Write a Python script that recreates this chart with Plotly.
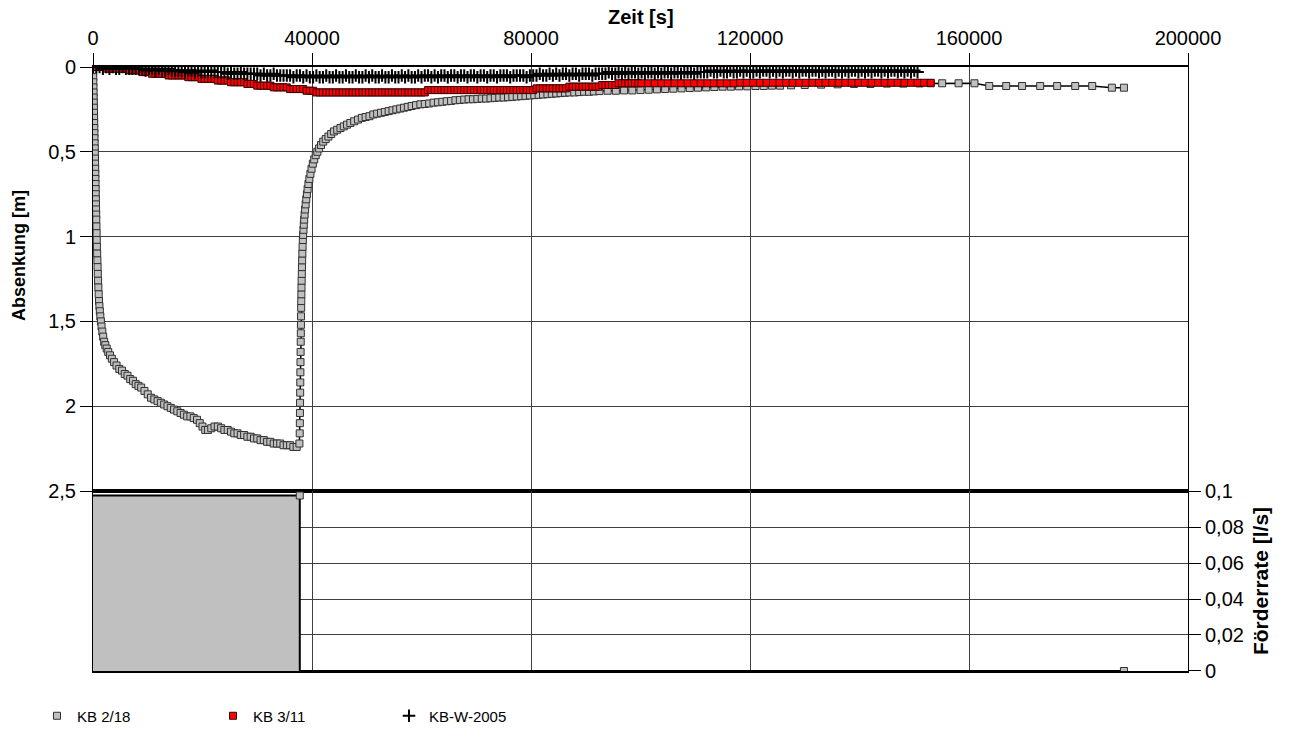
import plotly.graph_objects as go

# ---------------------------------------------------------------
# Pumping test: drawdown in three observation wells + pumping rate
# ---------------------------------------------------------------

# KB 2/18 (pumped well): pumping phase, time [s] / drawdown [m]
kb218_pump_t = [
    0, 20, 40, 60, 80, 100, 120, 140, 160, 180, 200, 220, 240, 260, 280, 300,
    320, 340, 360, 380, 400, 420, 440, 460, 480, 500, 520, 540, 560, 580, 600,
    630, 660, 690, 720, 760, 800, 840, 880, 930, 980, 1040, 1100, 1170, 1250,
    1340, 1440, 1560, 1700, 1860, 2040, 2250, 2500, 2780, 3100, 3450, 3850,
    4300, 4800, 5300, 5800, 6300, 6800, 7300, 7800, 8300, 8800, 9400, 10000,
    10600, 11200, 11800, 12400, 13000, 13600, 14200, 14800, 15400, 16000,
    16600, 17200, 17800, 18400, 19000, 19500, 20000, 20500, 21000, 21600,
    22200, 22800, 23400, 24000, 24600, 25200, 25800, 26400, 27000, 27600,
    28200, 28800, 29400, 30000, 30600, 31200, 31800, 32400, 33000, 33600,
    34200, 34800, 35400, 36000, 36600, 37200, 37700,
]
kb218_pump_s = [
    0.00, 0.03, 0.06, 0.09, 0.12, 0.15, 0.18, 0.21, 0.24, 0.27, 0.30, 0.33,
    0.36, 0.39, 0.42, 0.45, 0.48, 0.51, 0.54, 0.57, 0.60, 0.63, 0.66, 0.69,
    0.72, 0.75, 0.78, 0.81, 0.84, 0.87, 0.90, 0.94, 0.98, 1.02, 1.06, 1.10,
    1.14, 1.18, 1.22, 1.26, 1.30, 1.34, 1.38, 1.41, 1.44, 1.47, 1.50, 1.53,
    1.56, 1.59, 1.62, 1.64, 1.66, 1.68, 1.70, 1.72, 1.74, 1.76, 1.78, 1.79,
    1.81, 1.82, 1.84, 1.85, 1.87, 1.88, 1.89, 1.91, 1.93, 1.95, 1.96, 1.97,
    1.98, 1.99, 2.00, 2.01, 2.02, 2.03, 2.04, 2.05, 2.06, 2.06, 2.07, 2.08,
    2.10, 2.12, 2.14, 2.14, 2.13, 2.12, 2.12, 2.13, 2.14, 2.14, 2.15, 2.16,
    2.16, 2.17, 2.17, 2.18, 2.18, 2.19, 2.19, 2.20, 2.20, 2.21, 2.21, 2.22,
    2.22, 2.22, 2.23, 2.23, 2.23, 2.24, 2.24, 2.22,
]

# KB 2/18: recovery phase after the pump was switched off
kb218_rec_t = [
    37760, 37780, 37800, 37820, 37840, 37860, 37880, 37900, 37920, 37940,
    37960, 37980, 38000, 38020, 38040, 38060, 38080, 38110, 38140, 38170,
    38200, 38240, 38280, 38330, 38380, 38440, 38500, 38570, 38650, 38740,
    38840, 38950, 39070, 39200, 39350, 39520, 39710, 39920, 40150, 40400,
    40680, 40980, 41300, 41650, 42050, 42500, 43000, 43500, 44000, 44600,
    45200, 45800, 46400, 47000, 47700, 48400, 49100, 49800, 50500, 51200,
    51900, 52600, 53300, 54000, 54700, 55400, 56100, 56800, 57500, 58200,
    59000, 59800, 60600, 61400, 62200, 63000, 63800, 64600, 65400, 66200,
    67000, 67800, 68600, 69400, 70200, 71000, 71800, 72600, 73400, 74200,
    75000, 75800, 76600, 77400, 78200, 79000, 79800, 80600, 81400, 82200,
    83000, 83800, 84600, 85400, 86200, 87000, 87900, 88800, 89700, 90600,
    91500, 92500, 94000, 95500, 97000, 98500, 100000, 101500, 103000, 104500,
    106000, 107500, 109000, 110500, 112000, 113500, 115000, 116500, 118000,
    119500, 121000, 122500, 124000, 125500, 127500, 130000, 133000, 136000,
    139000, 142000, 145000, 148000, 151000, 153000, 155100, 158100, 161000,
    163700, 166800, 169700, 173000, 176100, 179400, 182500, 186100, 188300,
]
kb218_rec_s = [
    2.16, 2.10, 2.04, 1.98, 1.92, 1.86, 1.80, 1.74, 1.68, 1.62,
    1.57, 1.52, 1.47, 1.42, 1.38, 1.34, 1.30, 1.26, 1.22, 1.18,
    1.14, 1.10, 1.06, 1.02, 0.99, 0.96, 0.93, 0.90, 0.87, 0.84,
    0.81, 0.78, 0.75, 0.72, 0.69, 0.66, 0.63, 0.60, 0.57, 0.545,
    0.52, 0.50, 0.48, 0.46, 0.44, 0.425, 0.41, 0.395, 0.38, 0.37,
    0.36, 0.35, 0.34, 0.33, 0.32, 0.31, 0.30, 0.295, 0.29, 0.28,
    0.275, 0.27, 0.265, 0.26, 0.255, 0.25, 0.245, 0.24, 0.235, 0.23,
    0.225, 0.22, 0.218, 0.215, 0.21, 0.208, 0.205, 0.202, 0.20, 0.196,
    0.194, 0.192, 0.19, 0.19, 0.188, 0.186, 0.186, 0.184, 0.182, 0.18,
    0.18, 0.178, 0.176, 0.174, 0.172, 0.17, 0.168, 0.166, 0.164, 0.162,
    0.16, 0.158, 0.156, 0.154, 0.152, 0.15, 0.15, 0.148, 0.146, 0.146,
    0.144, 0.142, 0.14, 0.14, 0.138, 0.138, 0.136, 0.134, 0.132, 0.13,
    0.128, 0.126, 0.124, 0.122, 0.12, 0.118, 0.116, 0.116, 0.114,
    0.114, 0.112, 0.112, 0.11, 0.11, 0.108, 0.106, 0.104, 0.102,
    0.10, 0.10, 0.098, 0.098, 0.097, 0.096, 0.096, 0.096, 0.096,
    0.112, 0.112, 0.112, 0.112, 0.112, 0.112, 0.112, 0.122, 0.122,
]

# Logger sampling of the observation wells [s]
LOG_DT = 600
KB311_DT_LATE = 1200
KB311_SWITCH = 100800

# KB 3/11 drawdown readings [m] (every 600 s, from 100800 s every 1200 s)
kb311_s = [
    0.00, 0.00, 0.00, 0.00, 0.01, 0.01, 0.01, 0.01, 0.01, 0.01, 0.01,
    0.02, 0.02, 0.02, 0.02, 0.03, 0.03, 0.03, 0.04, 0.04, 0.04, 0.04, 0.04,
    0.05, 0.05, 0.05, 0.05, 0.05, 0.05, 0.06, 0.06, 0.06, 0.06,
    0.07, 0.07, 0.07, 0.07, 0.07, 0.08, 0.08, 0.08, 0.08,
    0.09, 0.09, 0.09, 0.09, 0.09, 0.10, 0.10, 0.10,
    0.11, 0.11, 0.11, 0.11, 0.11, 0.12, 0.12, 0.12, 0.12, 0.12,
    0.13, 0.13, 0.13, 0.13, 0.13, 0.14, 0.14, 0.14,
    0.15, 0.15, 0.15, 0.15, 0.15, 0.15, 0.15, 0.15, 0.15, 0.15, 0.15, 0.15,
    0.15, 0.15, 0.15, 0.15, 0.15, 0.15, 0.15, 0.15, 0.15, 0.15, 0.15, 0.15,
    0.15, 0.15, 0.15, 0.15, 0.15, 0.15, 0.15, 0.15, 0.15, 0.15,
    0.136, 0.136, 0.136, 0.136, 0.136, 0.136, 0.136, 0.136, 0.136, 0.136,
    0.136, 0.136, 0.136, 0.136, 0.136, 0.136, 0.136, 0.136, 0.136, 0.136,
    0.136, 0.136, 0.136, 0.136, 0.136, 0.136, 0.136, 0.136, 0.136, 0.136,
    0.136, 0.136, 0.136,
    0.126, 0.126, 0.126, 0.126, 0.126, 0.126, 0.126, 0.126, 0.126, 0.126,
    0.116, 0.116, 0.116, 0.116, 0.116, 0.116, 0.116, 0.116, 0.116, 0.116,
    0.106, 0.106, 0.106, 0.106, 0.106,
    0.096, 0.096, 0.096, 0.096, 0.096, 0.096, 0.096,
    # from here on every 1200 s
    0.096, 0.096, 0.096, 0.096, 0.096, 0.096, 0.096, 0.096, 0.096, 0.096,
    0.096, 0.096, 0.096, 0.096, 0.096,
    0.093, 0.093, 0.093, 0.093, 0.093, 0.093, 0.093, 0.093, 0.093, 0.093,
    0.093, 0.093, 0.093, 0.093, 0.093, 0.093, 0.093, 0.093, 0.093, 0.093,
    0.093, 0.093, 0.093, 0.093, 0.093, 0.093, 0.093, 0.093, 0.093, 0.093,
]

# KB-W-2005 drawdown readings [m] (every 600 s)
kbw2005_s = [
    0.00, 0.00, 0.00, 0.01, 0.00, 0.01, 0.00, 0.01, 0.01, 0.00,
    0.01, 0.01, 0.01, 0.01, 0.01, 0.01, 0.02, 0.01, 0.01, 0.02,
    0.01, 0.02, 0.02, 0.01, 0.02, 0.02, 0.02, 0.02, 0.03, 0.02,
    0.02, 0.03, 0.02, 0.03, 0.03, 0.03, 0.02, 0.03, 0.03, 0.03,
    0.03, 0.04, 0.03, 0.04, 0.04, 0.03, 0.04, 0.04, 0.04, 0.04,
    0.04, 0.05, 0.04, 0.05, 0.05, 0.04, 0.05, 0.05, 0.05, 0.05,
    0.05, 0.06, 0.05, 0.05, 0.06, 0.05, 0.06, 0.06, 0.05, 0.06,
    0.06, 0.05, 0.06, 0.06, 0.05, 0.06, 0.06, 0.05, 0.06, 0.06,
    0.05, 0.06, 0.06, 0.05, 0.06, 0.05, 0.06, 0.06, 0.05, 0.06,
    0.06, 0.05, 0.06, 0.06, 0.05, 0.06, 0.05, 0.06, 0.06, 0.05,
    0.06, 0.05, 0.05, 0.06, 0.05, 0.06, 0.05, 0.05, 0.06, 0.05,
    0.05, 0.06, 0.05, 0.05, 0.06, 0.05, 0.05, 0.06, 0.05, 0.05,
    0.06, 0.05, 0.05, 0.06, 0.05, 0.05, 0.05, 0.06, 0.05, 0.05,
    0.05, 0.05, 0.06, 0.05, 0.05, 0.05, 0.04, 0.05, 0.05, 0.04,
    0.05, 0.04, 0.05, 0.04, 0.04, 0.05, 0.04, 0.04, 0.05, 0.04,
    0.04, 0.04, 0.05, 0.04, 0.04, 0.04, 0.04, 0.03, 0.04, 0.04,
    0.03, 0.04, 0.03, 0.04, 0.03, 0.03, 0.04,
    0.03, 0.04, 0.03, 0.03, 0.04, 0.03, 0.04, 0.03, 0.03, 0.04,
    0.03, 0.03, 0.04, 0.03, 0.03, 0.03, 0.04, 0.03, 0.03, 0.03,
    0.03, 0.02, 0.03, 0.03, 0.02, 0.03, 0.03, 0.02, 0.03, 0.03,
    0.02, 0.03, 0.02, 0.03, 0.03, 0.02, 0.03, 0.02, 0.02, 0.03,
    0.02, 0.03, 0.02, 0.03, 0.02, 0.02, 0.03, 0.02, 0.03, 0.02,
    0.02, 0.03, 0.02, 0.02, 0.03, 0.02, 0.03, 0.02, 0.02, 0.03,
    0.02, 0.03, 0.02, 0.03, 0.02, 0.02, 0.03, 0.02, 0.03, 0.02,
    0.03, 0.02, 0.02, 0.03, 0.02, 0.03, 0.02, 0.02, 0.03, 0.02,
    0.03, 0.02, 0.03, 0.02, 0.03,
]

# Pumping rate [l/s]: constant while pumping, zero afterwards
rate_t = [0, 37770, 37770, 188300]
rate_q = [0.0975, 0.0975, 0.0, 0.0]
rate_marker_visible = [0, 1, 0, 1]

# Axis ticks
x_ticks = [0, 40000, 80000, 120000, 160000, 200000]
x_ticktext = ["0", "40000", "80000", "120000", "160000", "200000"]
s_ticks = [0, 0.5, 1.0, 1.5, 2.0, 2.5]
s_ticktext = ["0", "0,5", "1", "1,5", "2", "2,5"]
q_ticks = [0, 0.02, 0.04, 0.06, 0.08, 0.1]
q_ticktext = ["0", "0,02", "0,04", "0,06", "0,08", "0,1"]


def logger_times(n, dt=LOG_DT, switch=None, dt_late=None):
    """Sampling times of an observation-well logger."""
    times = []
    t = 0
    for _ in range(n):
        times.append(t)
        t += dt_late if (switch is not None and t >= switch - dt) else dt
    return times


kb218_t = kb218_pump_t + kb218_rec_t
kb218_s = kb218_pump_s + kb218_rec_s
kb311_t = logger_times(len(kb311_s), switch=KB311_SWITCH,
                       dt_late=KB311_DT_LATE)
kbw2005_t = logger_times(len(kbw2005_s))

FONT = "Liberation Sans, Arial, sans-serif"
GRID = "#404040"

fig = go.Figure()

# KB 2/18: connecting line underneath, markers on top
fig.add_trace(go.Scatter(
    x=kb218_t, y=kb218_s, mode="lines", showlegend=False, hoverinfo="skip",
    line=dict(color="black", width=1.5), xaxis="x", yaxis="y",
))
fig.add_trace(go.Scatter(
    x=kb218_t, y=kb218_s, name="KB 2/18", mode="markers",
    marker=dict(symbol="square", size=7, color="#c0c0c0",
                line=dict(color="#303030", width=1)),
    xaxis="x", yaxis="y",
))
fig.add_trace(go.Scatter(
    x=kb311_t, y=kb311_s, name="KB 3/11", mode="markers",
    marker=dict(symbol="square", size=7, color="#ff0000",
                line=dict(color="#3a0000", width=1)),
    xaxis="x", yaxis="y",
))
fig.add_trace(go.Scatter(
    x=kbw2005_t, y=kbw2005_s, name="KB-W-2005", mode="markers",
    marker=dict(symbol="cross-thin", size=9, color="black",
                line=dict(color="black", width=2)),
    xaxis="x", yaxis="y",
))
fig.add_trace(go.Scatter(
    x=rate_t, y=rate_q, name="Förderrate", mode="lines+markers",
    fill="tozeroy", fillcolor="#c0c0c0",
    line=dict(color="black", width=2),
    marker=dict(symbol="square", size=7, color="#c0c0c0",
                opacity=rate_marker_visible,
                line=dict(color="#303030", width=1)),
    showlegend=False, xaxis="x2", yaxis="y2",
))

TOP_DOMAIN = [0.298, 1.0]
BOTTOM_DOMAIN = [0.0, 0.298]
PLOT_TOP, PLOT_BOTTOM = 67, 671          # pixel rows of the plotting area
PLOT_H = PLOT_BOTTOM - PLOT_TOP

fig.update_layout(
    width=1290, height=735,
    margin=dict(l=93, r=102, t=PLOT_TOP, b=735 - PLOT_BOTTOM, autoexpand=False),
    paper_bgcolor="white", plot_bgcolor="white",
    font=dict(family=FONT, size=20, color="black"),
    showlegend=True,
    legend=dict(
        orientation="h", xref="container", yref="container",
        x=37 / 1290, xanchor="left", y=1 - 716 / 735, yanchor="middle",
        entrywidth=131, entrywidthmode="pixels",
        font=dict(family=FONT, size=15, color="black"),
        bgcolor="rgba(0,0,0,0)",
    ),
    xaxis=dict(
        domain=[0, 1], range=[0, 200000], anchor="y", side="top",
        automargin=False,
        tickmode="array", tickvals=x_ticks, ticktext=x_ticktext,
        ticks="outside", ticklen=12, tickcolor="black", tickwidth=1,
        showline=True, linecolor="black", linewidth=2, mirror=True,
        showgrid=True, gridcolor=GRID, gridwidth=1, zeroline=False,
    ),
    xaxis2=dict(
        domain=[0, 1], range=[0, 200000], anchor="y2", matches="x",
        automargin=False,
        tickmode="array", tickvals=x_ticks, showticklabels=False, ticks="",
        showline=True, linecolor="black", linewidth=2, mirror=True,
        showgrid=True, gridcolor=GRID, gridwidth=1, zeroline=False,
    ),
    yaxis=dict(
        domain=TOP_DOMAIN, range=[2.5, 0], anchor="x", automargin=False,
        tickmode="array", tickvals=s_ticks, ticktext=s_ticktext,
        ticks="outside", ticklen=12, tickcolor="black", tickwidth=1,
        showline=True, linecolor="black", linewidth=1, mirror=True,
        showgrid=True, gridcolor=GRID, gridwidth=1, zeroline=False,
    ),
    yaxis2=dict(
        domain=BOTTOM_DOMAIN, range=[0, 0.1], anchor="x2", side="right",
        automargin=False,
        tickmode="array", tickvals=q_ticks, ticktext=q_ticktext,
        ticks="outside", ticklen=12, tickcolor="black", tickwidth=1,
        showline=True, linecolor="black", linewidth=1, mirror=True,
        showgrid=True, gridcolor=GRID, gridwidth=1, zeroline=False,
        title=dict(text="<b>Förderrate [l/s]</b>", standoff=10,
                   font=dict(size=21, family=FONT)),
    ),
    annotations=[
        dict(
            text="<b>Zeit [s]</b>",
            xref="paper", x=0.5, xanchor="center",
            yref="paper", y=1 + (PLOT_TOP - 17) / PLOT_H, yanchor="middle",
            showarrow=False, font=dict(size=20, family=FONT, color="black"),
        ),
        dict(
            text="<b>Absenkung [m]</b>", textangle=-90,
            xref="paper", x=0, xanchor="center", xshift=-74,
            yref="paper", y=(PLOT_BOTTOM - 256) / PLOT_H, yanchor="middle",
            showarrow=False, font=dict(size=18, family=FONT, color="black"),
        ),
    ],
)

fig.write_html("out.html")
